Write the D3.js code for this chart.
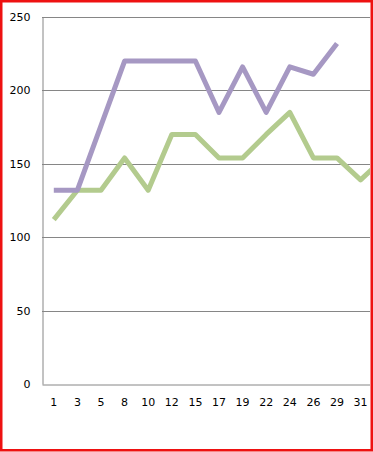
<!DOCTYPE html>
<html>
<head>
<meta charset="utf-8">
<script src="https://cdn.jsdelivr.net/npm/d3@7"></script>
<style>
  body { margin: 0; background: #fff; }
  svg text { font-family: "DejaVu Sans", Verdana, sans-serif; font-size: 11px; fill: #000; }
</style>
</head>
<body>
<svg id="chart"></svg>
<script>
// categories (the last one is cut off by the frame on the right, its label is not shown)
const days = ["1", "3", "5", "8", "10", "12", "15", "17", "19", "22", "24", "26", "29", "31", "33"];
const purpleValues = [132, 132, 176, 220, 220, 220, 220, 185, 216, 185, 216, 211, 232, null, null];
const greenValues = [112, 132, 132, 154, 132, 170, 170, 154, 154, 170, 185, 154, 154, 139, 154];
const yTicks = [0, 50, 100, 150, 200, 250];

const width = 373;
const height = 452;
const plot = {left: 42, top: 17, bottom: 384, step: 23.6};

const svg = d3.select('#chart')
    .attr('width', width)
    .attr('height', height);

svg.append('clipPath')
    .attr('id', 'frameClip')
    .append('rect')
    .attr('x', 0).attr('y', 0)
    .attr('width', 370).attr('height', height);

const g = svg.append('g').attr('clip-path', 'url(#frameClip)');

const x = d3.scaleBand()
    .domain(days)
    .range([plot.left, plot.left + days.length * plot.step])
    .padding(0);
const y = d3.scaleLinear()
    .domain([0, 250])
    .range([plot.bottom, plot.top]);

// gridlines
g.append('g')
    .selectAll('line')
    .data(yTicks.filter(d => d > 0))
    .enter()
    .append('line')
    .attr('x1', plot.left)
    .attr('x2', x.range()[1])
    .attr('y1', d => Math.round(y(d)) + 0.5)
    .attr('y2', d => Math.round(y(d)) + 0.5)
    .attr('stroke', '#868686')
    .attr('stroke-width', 1);

// y axis
const yAxis = g.append('g')
    .attr('transform', 'translate(' + (plot.left + 0.5) + ',0)')
    .call(d3.axisLeft(y).tickValues(yTicks).tickSize(0).tickPadding(12));
yAxis.select('.domain').attr('stroke', '#868686');
yAxis.selectAll('text').style('font-size', '11px');

// x axis
const xAxis = g.append('g')
    .attr('transform', 'translate(0,' + (Math.round(plot.bottom) + 0.5) + ')')
    .call(d3.axisBottom(x).tickValues(days.slice(0, -1)).tickSize(0).tickPadding(14));
xAxis.select('.domain').attr('stroke', '#868686');
xAxis.selectAll('text').style('font-size', '11px');

const line = d3.line()
    .defined(d => d.v != null)
    .x(d => x(d.day) + x.bandwidth() / 2)
    .y(d => y(d.v));

const series = [
  {values: greenValues, color: '#b3cb8e'},
  {values: purpleValues, color: '#a698c3'}
];

series.forEach(function(s) {
  g.append('path')
      .datum(days.map((day, i) => ({day: day, v: s.values[i]})))
      .attr('d', line)
      .attr('fill', 'none')
      .attr('stroke', s.color)
      .attr('stroke-width', 5)
      .attr('stroke-linejoin', 'round');
});

// red frame
svg.append('rect')
    .attr('x', 1.25).attr('y', 1.25)
    .attr('width', width - 2.5).attr('height', height - 3)
    .attr('fill', 'none')
    .attr('stroke', '#ee1111')
    .attr('stroke-width', 2.5);
</script>
</body>
</html>
